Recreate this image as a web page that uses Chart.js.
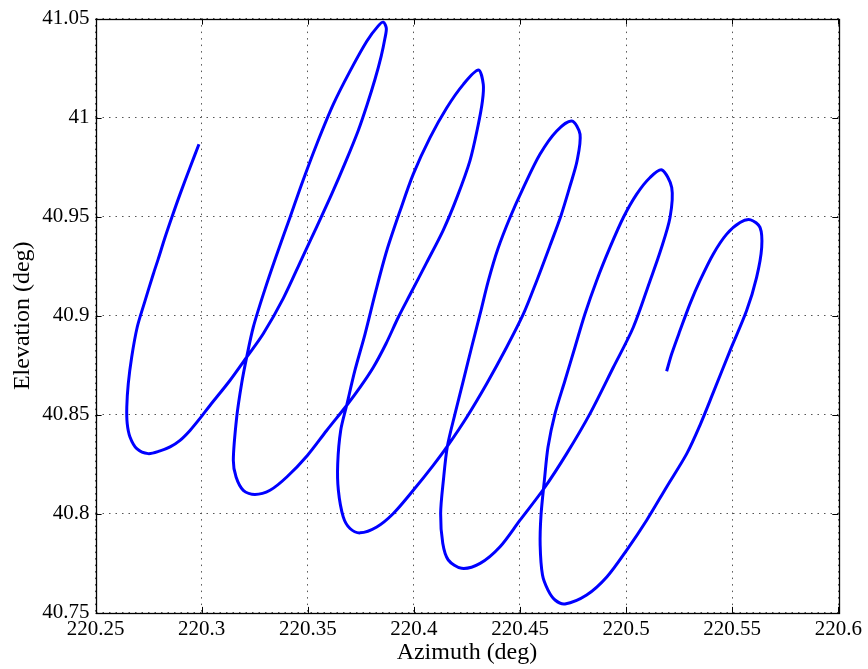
<!DOCTYPE html>
<html>
<head>
<meta charset="utf-8">
<title>Azimuth vs Elevation</title>
<script src="https://cdn.jsdelivr.net/npm/chart.js@4.4.1/dist/chart.umd.min.js"></script>
<style>
  html, body { margin: 0; padding: 0; background: #fff; }
  #wrap { width: 868px; height: 669px; }
</style>
</head>
<body>
<div id="wrap"><canvas id="chartTrack" width="868" height="669"></canvas></div>
<script>
// values, in drawing order (start tail -> loops -> end)
const azimuth = [
  // tail
  220.2987, 220.2945, 220.2898, 220.2859, 220.2827, 220.2795, 220.2772, 220.2730,
  220.2696, 220.2670, 220.2654, 220.2647, 220.2649, 220.2662, 220.2694, 220.2748,
  // loop 1 up
  220.2804, 220.2851, 220.2898, 220.2945, 220.2992, 220.3039, 220.3133, 220.3212,
  220.3290, 220.3385, 220.3471, 220.3542, 220.3613, 220.3680, 220.3737, 220.3779,
  220.3817, 220.3846, 220.3864, 220.3870, 220.3856,
  // loop 1 down
  220.3831, 220.3778, 220.3699, 220.3620, 220.3542, 220.3471, 220.3416, 220.3350,
  220.3296, 220.3243, 220.3212, 220.3188, 220.3165, 220.3149, 220.3162, 220.3196,
  220.3251,
  // loop 2 up
  220.3322, 220.3401, 220.3498, 220.3589, 220.3683, 220.3746, 220.3809, 220.3869,
  220.3926, 220.3982, 220.4060, 220.4139, 220.4202, 220.4264, 220.4302, 220.4323,
  220.4327, 220.4304,
  // loop 2 down
  220.4233, 220.4155, 220.4076, 220.3997, 220.3935, 220.3872, 220.3821, 220.3770,
  220.3722, 220.3683, 220.3655, 220.3641, 220.3644, 220.3667, 220.3699, 220.3746,
  // loop 3 up
  220.3825, 220.3903, 220.3997, 220.4091, 220.4158, 220.4249, 220.4343, 220.4437,
  220.4516, 220.4579, 220.4641, 220.4693, 220.4736, 220.4769, 220.4783, 220.4744,
  // loop 3 down
  220.4673, 220.4594, 220.4516, 220.4453, 220.4396, 220.4351, 220.4312, 220.4272,
  220.4233, 220.4194, 220.4158, 220.4139, 220.4126, 220.4136, 220.4162, 220.4225,
  // loop 4 up
  220.4312, 220.4406, 220.4500, 220.4613, 220.4720, 220.4830, 220.4940, 220.5034,
  220.5113, 220.5162, 220.5207, 220.5215, 220.5168,
  // loop 4 down
  220.5113, 220.5050, 220.4987, 220.4924, 220.4861, 220.4806, 220.4759, 220.4712,
  220.4665, 220.4632, 220.4615, 220.4599, 220.4595, 220.4606, 220.4632, 220.4665,
  220.4712,
  // loop 5 up
  220.4814, 220.4909, 220.5003, 220.5097, 220.5191, 220.5286, 220.5348, 220.5411,
  220.5490, 220.5568, 220.5615, 220.5639, 220.5631, 220.5587,
  // loop 5 down to end
  220.5537, 220.5474, 220.5411, 220.5348, 220.5301, 220.5254, 220.5215, 220.5191
];
const elevation = [
  40.9866, 40.9748, 40.9614, 40.9496, 40.9395, 40.9286, 40.9211, 40.9065,
  40.8942, 40.8791, 40.8657, 40.8539, 40.8455, 40.8388, 40.8329, 40.8304,

  40.8318, 40.8338, 40.8371, 40.8421, 40.8482, 40.8547, 40.8673, 40.8791,
  40.8909, 40.9089, 40.9286, 40.9449, 40.9615, 40.9782, 40.9933, 41.0064,
  41.0195, 41.0311, 41.0403, 41.0452, 41.0482,

  41.0462, 41.0386, 41.0235, 41.0067, 40.9866, 40.9664, 40.9496, 40.9298,
  40.9127, 40.8942, 40.8791, 40.8657, 40.8488, 40.8270, 40.8186, 40.8119,
  40.8098,

  40.8119, 40.8186, 40.8295, 40.8421, 40.8547, 40.8638, 40.8740, 40.8860,
  40.8991, 40.9107, 40.9268, 40.9434, 40.9595, 40.9782, 40.9958, 41.0084,
  41.0168, 41.0240,

  41.0168, 41.0050, 40.9899, 40.9715, 40.9530, 40.9328, 40.9127, 40.8909,
  40.8724, 40.8547, 40.8421, 40.8254, 40.8119, 40.7985, 40.7926, 40.7904,

  40.7934, 40.8002, 40.8119, 40.8245, 40.8342, 40.8488, 40.8657, 40.8841,
  40.9009, 40.9177, 40.9353, 40.9505, 40.9656, 40.9782, 40.9916, 40.9983,

  40.9933, 40.9815, 40.9647, 40.9496, 40.9338, 40.9177, 40.9009, 40.8841,
  40.8673, 40.8506, 40.8342, 40.8170, 40.8002, 40.7851, 40.7767, 40.7725,

  40.7750, 40.7834, 40.7968, 40.8128, 40.8304, 40.8506, 40.8740, 40.8942,
  40.9177, 40.9328, 40.9496, 40.9647, 40.9736,

  40.9698, 40.9614, 40.9496, 40.9345, 40.9177, 40.9009, 40.8841, 40.8673,
  40.8506, 40.8337, 40.8170, 40.7993, 40.7842, 40.7691, 40.7615, 40.7565,
  40.7545,

  40.7590, 40.7681, 40.7817, 40.7968, 40.8136, 40.8304, 40.8447, 40.8613,
  40.8824, 40.9026, 40.9194, 40.9345, 40.9446, 40.9484,

  40.9471, 40.9412, 40.9312, 40.9177, 40.9060, 40.8925, 40.8808, 40.8720
];

const xTicks = [220.25, 220.3, 220.35, 220.4, 220.45, 220.5, 220.55, 220.6];
const yTicks = [40.75, 40.8, 40.85, 40.9, 40.95, 41, 41.05];

const points = azimuth.map((az, i) => ({ x: az, y: elevation[i] }));

Chart.defaults.font.family = '"Liberation Serif", "Times New Roman", serif';
Chart.defaults.color = '#000';

// matlab-ish frame: box + inward tick marks
const frame = {
  id: 'frame',
  afterDraw(chart) {
    const { ctx, chartArea: a, scales: { x, y } } = chart;
    const len = 6;
    ctx.save();
    ctx.strokeStyle = '#000';
    ctx.lineWidth = 1;
    ctx.beginPath();
    xTicks.forEach(v => {
      const px = Math.round(x.getPixelForValue(v)) + 0.5;
      ctx.moveTo(px, a.bottom); ctx.lineTo(px, a.bottom - len);
      ctx.moveTo(px, a.top); ctx.lineTo(px, a.top + len);
    });
    yTicks.forEach(v => {
      const py = Math.round(y.getPixelForValue(v)) + 0.5;
      ctx.moveTo(a.left, py); ctx.lineTo(a.left + len, py);
      ctx.moveTo(a.right, py); ctx.lineTo(a.right - len, py);
    });
    ctx.stroke();
    ctx.lineWidth = 1.3;
    ctx.strokeRect(Math.round(a.left) + 0.5, Math.round(a.top) + 0.5,
      Math.round(a.right - a.left), Math.round(a.bottom - a.top));
    ctx.restore();
  }
};

const fmt = v => String(Number(v.toFixed(2)));

new Chart(document.getElementById('chartTrack').getContext('2d'), {
  type: 'scatter',
  data: {
    datasets: [{
      data: points,
      showLine: true,
      borderColor: '#0000ff',
      borderWidth: 3,
      tension: 0.3,
      pointRadius: 0,
      fill: false
    }]
  },
  options: {
    responsive: false,
    animation: false,
    layout: { padding: { left: 0, top: 17.4, right: 29.7, bottom: 0 } },
    plugins: { legend: { display: false }, tooltip: { enabled: false } },
    scales: {
      x: {
        type: 'linear',
        min: 220.25,
        max: 220.6,
        afterBuildTicks: s => { s.ticks = xTicks.map(v => ({ value: v })); },
        afterFit: s => { s.height = 56.1; },
        ticks: { callback: fmt, padding: 4, font: { size: 21 }, maxRotation: 0, autoSkip: false },
        grid: { color: '#555', lineWidth: 1, drawTicks: false, borderDash: [1.5, 5] },
        border: { display: false, dash: [1.5, 5] },
        title: { display: true, text: 'Azimuth (deg)', font: { size: 24 }, padding: { top: 0, bottom: 2 } }
      },
      y: {
        type: 'linear',
        min: 40.75,
        max: 41.05,
        afterBuildTicks: s => { s.ticks = yTicks.map(v => ({ value: v })); },
        afterFit: s => { s.width = 95.6; },
        ticks: { callback: fmt, padding: 6, font: { size: 21 }, autoSkip: false },
        grid: { color: '#555', lineWidth: 1, drawTicks: false, borderDash: [1.5, 5] },
        border: { display: false, dash: [1.5, 5] },
        title: { display: true, text: 'Elevation (deg)', font: { size: 24 }, padding: { top: 8, bottom: 0 } }
      }
    }
  },
  plugins: [frame]
});
</script>
</body>
</html>
